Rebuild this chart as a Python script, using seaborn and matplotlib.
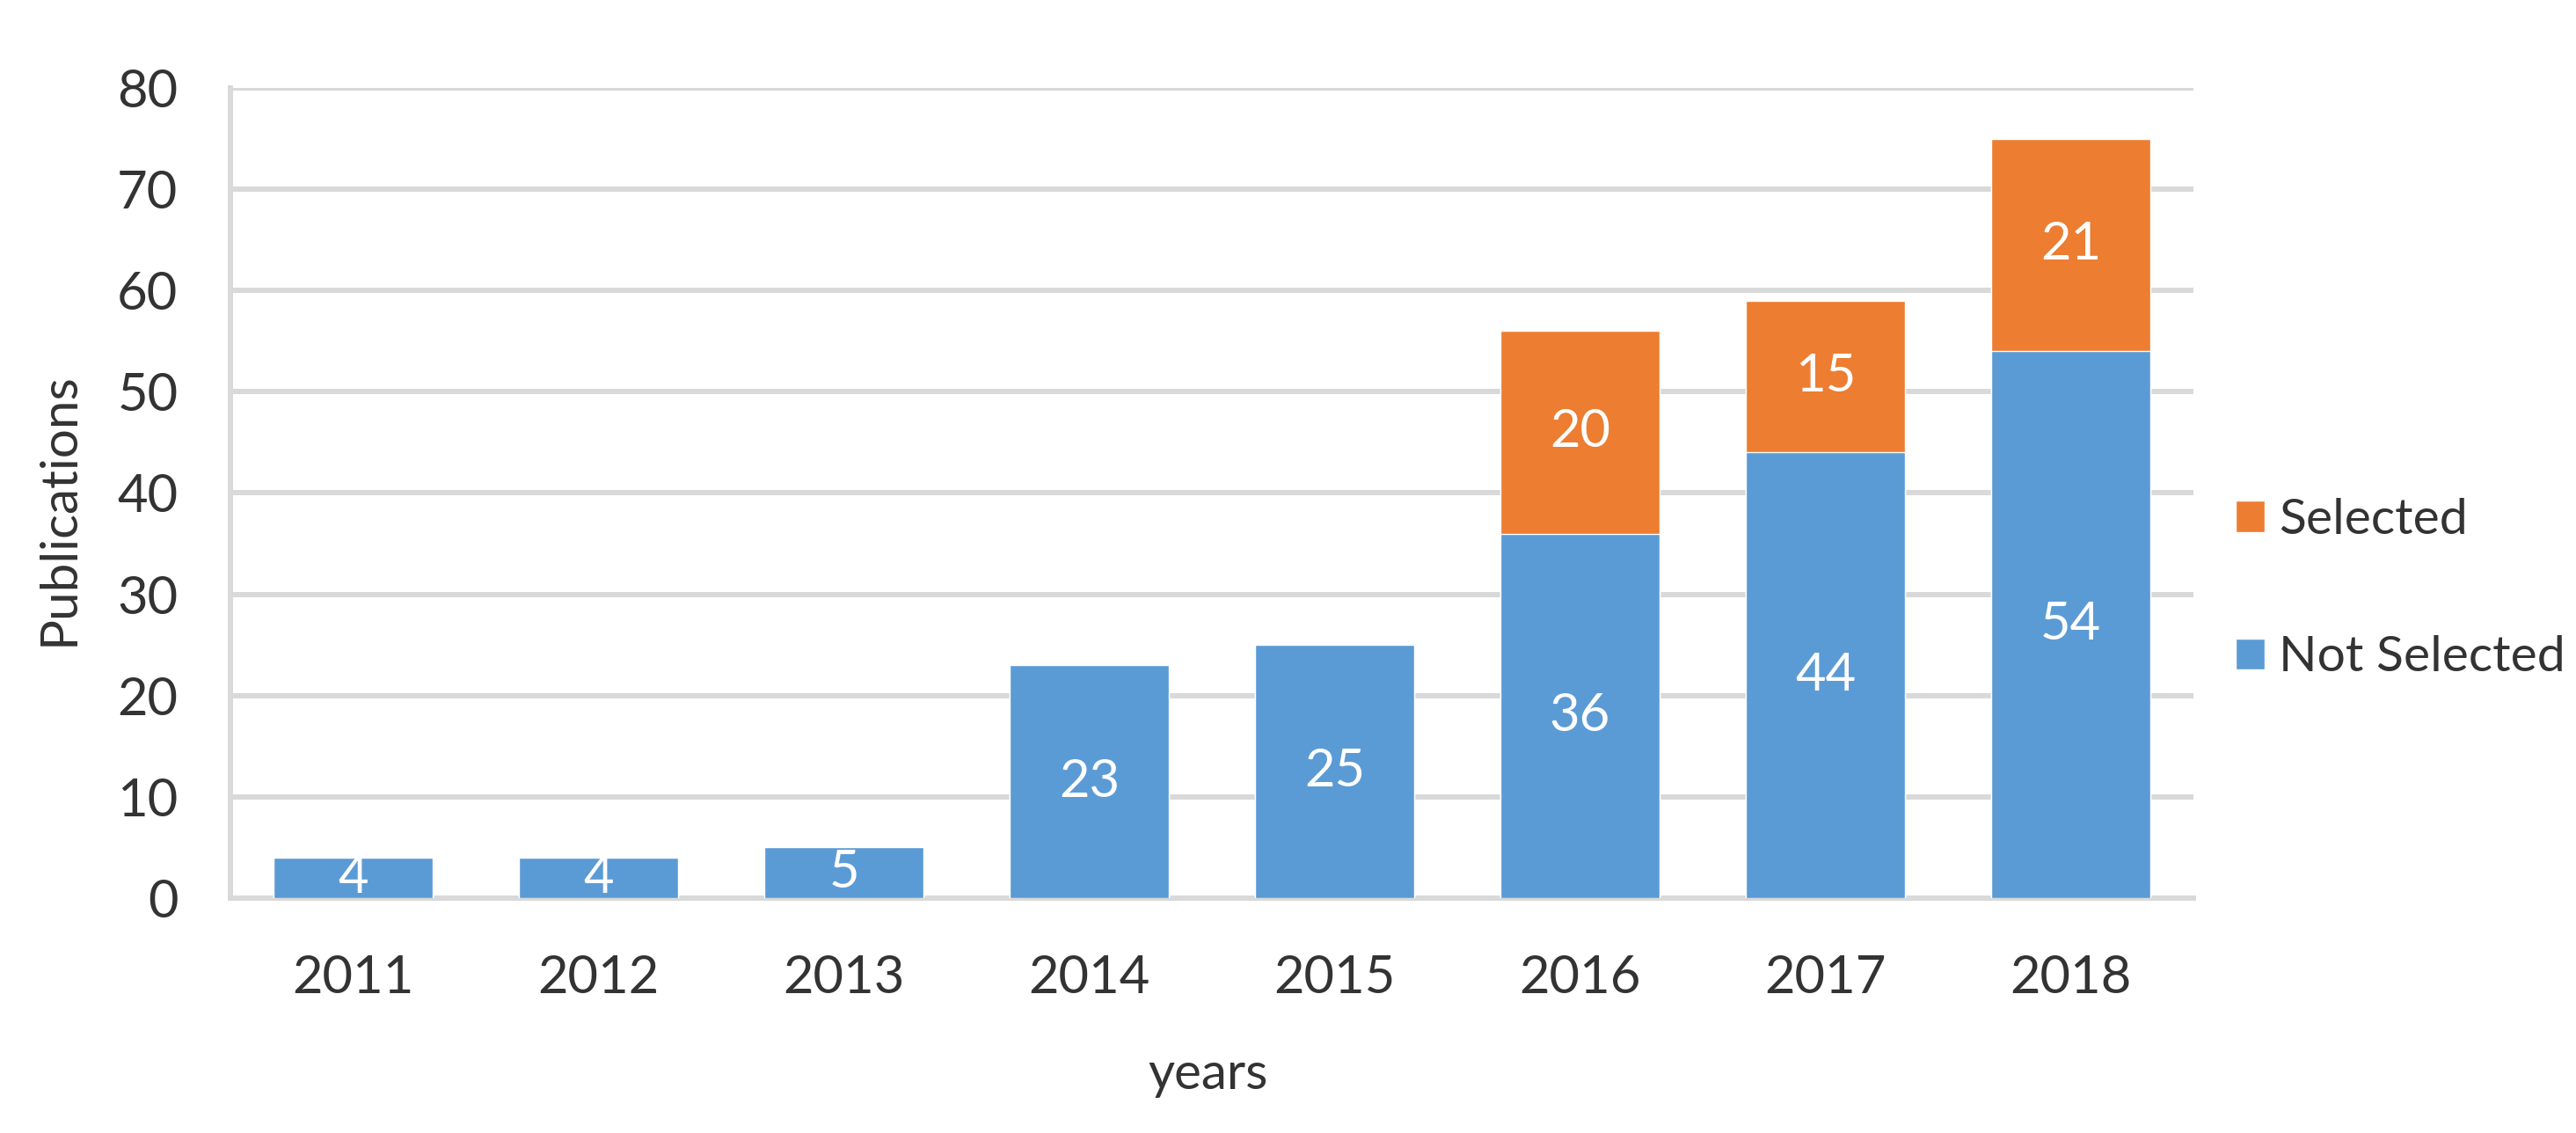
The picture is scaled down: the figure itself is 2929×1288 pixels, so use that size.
import matplotlib
matplotlib.use("Agg")
import matplotlib.pyplot as plt
import seaborn as sns
from matplotlib.patches import Patch

# data
years = ['2011', '2012', '2013', '2014', '2015', '2016', '2017', '2018']
not_selected = [4, 4, 5, 23, 25, 36, 44, 54]
selected = [0, 0, 0, 0, 0, 20, 15, 21]
y_ticks = [0, 10, 20, 30, 40, 50, 60, 70, 80]

blue = '#5B9BD5'
orange = '#ED7D31'
grid_col = '#D9D9D9'
text_col = '#333333'

sns.set_theme(style='white')
plt.rcParams['font.family'] = ['Lato', 'DejaVu Sans']

fig = plt.figure(figsize=(29.29, 12.88), dpi=100)
ax = fig.add_axes([0.0895, 0.2073, 0.762, 0.7151])

# stacked look: totals in orange, then the blue part drawn over it
totals = [a + b for a, b in zip(not_selected, selected)]
sns.barplot(x=years, y=totals, color=orange, saturation=1, width=0.65, ax=ax, zorder=3)
sns.barplot(x=years, y=not_selected, color=blue, saturation=1, width=0.65, ax=ax, zorder=4)

# value labels centred in each segment
for i, (ns, s) in enumerate(zip(not_selected, selected)):
    ax.text(i, ns / 2, str(ns), ha='center', va='center', color='white', fontsize=43, zorder=5)
    if s > 0:
        ax.text(i, ns + s / 2, str(s), ha='center', va='center', color='white', fontsize=43, zorder=5)

ax.set_xlim(-0.5, 7.5)
ax.set_ylim(0, 80)
ax.set_yticks(y_ticks)
ax.yaxis.grid(True, color=grid_col, linewidth=4.3, zorder=0)
ax.set_axisbelow(True)

for side in ['top', 'right']:
    ax.spines[side].set_visible(False)
for side in ['left', 'bottom']:
    ax.spines[side].set_color(grid_col)
    ax.spines[side].set_linewidth(4.3)

ax.tick_params(axis='both', length=0, labelsize=43, labelcolor=text_col)
ax.tick_params(axis='y', pad=43)
ax.tick_params(axis='x', pad=46)

ax.set_xlabel('')
ax.set_ylabel('Publications', fontsize=42, color=text_col)
ax.yaxis.set_label_coords(-0.0756, 0.48)
fig.text(0.469, 0.052, 'years', ha='center', va='center', fontsize=42, color=text_col)

handles = [Patch(facecolor=orange, label='Selected'),
           Patch(facecolor=blue, label='Not Selected')]
fig.legend(handles=handles, loc='center left', bbox_to_anchor=(0.868, 0.48),
           frameon=False, fontsize=41, labelcolor=text_col, labelspacing=1.85,
           handlelength=0.58, handleheight=0.58, handletextpad=0.28,
           borderpad=0, borderaxespad=0)

fig.savefig('out.png', dpi=100)
